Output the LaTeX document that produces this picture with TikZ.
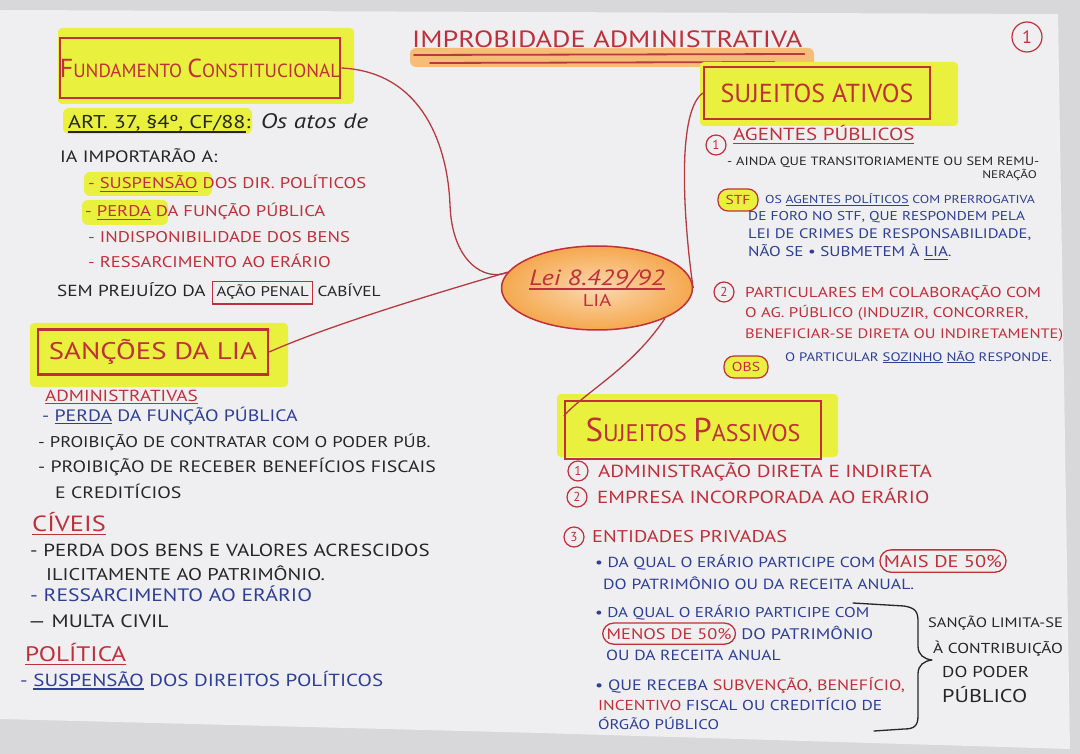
\documentclass[tikz,border=0pt]{standalone}
\usepackage{fontspec}
% hand-lettered capitals are wide: stretch the body face a little
\setmainfont{PT Sans}[FakeStretch=1.2]
\newfontfamily\headfont{PT Sans}
\usetikzlibrary{shapes.geometric,calc}

\definecolor{inkred}{HTML}{C0303A}
\definecolor{inklink}{HTML}{B73A40}
\definecolor{inkblue}{HTML}{2E3F98}
\definecolor{inkblack}{HTML}{262628}
\definecolor{hlyellow}{HTML}{E9F03E}
\definecolor{hlorange}{HTML}{F5A84E}
\definecolor{hlband}{HTML}{F6BC78}
\definecolor{desk}{HTML}{D8D8DA}
\definecolor{sheet}{HTML}{EFEFF1}

% underline drawn in the current text colour
\newsavebox\undlbox
\newcommand\undl[1]{\sbox\undlbox{#1}\rlap{\usebox\undlbox}\rule[-0.2em]{\wd\undlbox}{0.08em}}
\newcommand\fsz[1]{\fontsize{#1pt}{#1pt}\selectfont}

\begin{document}
\begin{tikzpicture}[x=1pt,y=-1pt,
  txt/.style={inner sep=0pt, anchor=base west},
  rd/.style={txt, text=inkred},
  bl/.style={txt, text=inkblue},
  bk/.style={txt, text=inkblack},
  hl/.style={fill=hlyellow, rounded corners=6pt},
  headbox/.style={draw=inkred, line width=2.4pt, text=inkred, inner sep=0pt},
  num/.style={circle, draw=inkred, line width=1.2pt, text=inkred, inner sep=0pt,
    minimum size=20pt, font=\headfont\fsz{13}},
  tag/.style={draw=inkred, line width=1.2pt, fill=hlyellow, rounded corners=10pt,
    text=inkred, inner sep=0pt, font=\fsz{13}},
  circled/.style={draw=inkred, line width=1.3pt, rounded corners=11pt, text=inkred,
    inner xsep=4pt, inner ysep=5pt, anchor=base west},
  link/.style={draw=inklink, line width=1.3pt}]

\useasboundingbox (0,0) rectangle (1080,754);
% desk and sheet of paper
\fill[desk] (0,0) rectangle (1080,754);
\fill[sheet] (0,10) -- (1058,14) -- (1070,749) -- (540,733) -- (0,719) -- cycle;

% ---------- title ----------
\fill[hlband, rounded corners=6pt] (410,48) rectangle (814,67);
\node[rd, font=\fsz{23.5}] (title) at (412,48) {IMPROBIDADE ADMINISTRATIVA};
\draw[inklink, line width=1.8pt, line cap=round]
  ($(title.base west)+(2,7)$) -- ($(title.base east)+(2,6)$);
\draw[inklink, line width=1.8pt, line cap=round]
  ($(title.base west)+(18,15)$) -- ($(title.base east)+(-28,14)$);
\node[num, minimum size=30pt, font=\headfont\fsz{18}] (pg) at (1027,37) {1};

% ---------- fundamento constitucional ----------
\fill[hlyellow, rounded corners=4pt] (58,28) rectangle (354,104);
\node[headbox, minimum width=272pt, minimum height=60pt, font=\headfont\fsz{19}] (fund) at (200,68)
  {{\fsz{26}F}UNDAMENTO {\fsz{26}C}ONSTITUCIONAL};
\fill[hl] (63,108) rectangle (252,134);
\node[bk, font=\fsz{18.5}] (art) at (68,129) {\undl{ART. 37, §4º, CF/88}:};
\node[bk, font=\fsz{21}\itshape] (atos) at ([xshift=10pt]art.base east) {Os atos de};
\node[bk, font=\fsz{16.5}] (ia) at (60,163) {IA IMPORTARÃO A:};
\fill[hl] (84,172) rectangle (212,196);
\fill[hl] (82,200) rectangle (168,225);
\node[rd, font=\fsz{15.5}] (f1) at (88,189) {- \undl{SUSPENSÃO} DOS DIR. POLÍTICOS};
\node[rd, font=\fsz{15.5}] (f2) at (85,217) {- \undl{PERDA} DA FUNÇÃO PÚBLICA};
\node[rd, font=\fsz{15.5}] (f3) at (88,243) {- INDISPONIBILIDADE DOS BENS};
\node[rd, font=\fsz{15.5}] (f4) at (88,268) {- RESSARCIMENTO AO ERÁRIO};
\node[bk, font=\fsz{16}] (sem) at (57,297) {SEM PREJUÍZO DA};
\node[bk, font=\fsz{14}, draw=inkred, line width=1.4pt, inner sep=4pt] (acao)
  at ([xshift=6pt]sem.base east) {AÇÃO PENAL};
\node[bk, font=\fsz{14.5}] (cab) at ([xshift=4pt]acao.base east) {CABÍVEL};

% ---------- central node ----------
\node[ellipse, draw=inkred, line width=1.5pt, inner color=hlorange!45!white,
  outer color=hlorange, minimum width=155pt, minimum height=84pt, align=center,
  text=inkred, inner sep=0pt] (lia) at (597,288)
  {{\fsz{22}\itshape\undl{Lei 8.429/92}}\\[3pt]{\fsz{17}LIA}};

% ---------- sanções da LIA ----------
\fill[hlyellow, rounded corners=4pt] (30,323) rectangle (288,387);
\node[headbox, minimum width=230pt, minimum height=45pt, font=\fsz{24}] (sanc) at (153,352)
  {SANÇÕES DA LIA};
\node[rd, font=\fsz{16}] (adm) at (45,401) {\undl{ADMINISTRATIVAS}};
\node[bl, font=\fsz{16.5}] (c1) at (42,421) {- \undl{PERDA} DA FUNÇÃO PÚBLICA};
\node[bk, font=\fsz{15.5}] (c2) at (38,447) {- PROIBIÇÃO DE CONTRATAR COM O PODER PÚB.};
\node[bk, font=\fsz{16.5}] (c3) at (38,472) {- PROIBIÇÃO DE RECEBER BENEFÍCIOS FISCAIS};
\node[bk, font=\fsz{16.5}] (c4) at (55,498) {E CREDITÍCIOS};
\node[rd, font=\fsz{22}] (civ) at (32,531) {\undl{CÍVEIS}};
\node[bk, font=\fsz{17.5}] (d1) at (30,556) {- PERDA DOS BENS E VALORES ACRESCIDOS};
\node[bk, font=\fsz{17}] (d2) at (46,580) {ILICITAMENTE AO PATRIMÔNIO.};
\node[bl, font=\fsz{18}] (d3) at (30,601) {- RESSARCIMENTO AO ERÁRIO};
\node[bk, font=\fsz{18}] (d4) at (28,627) {— MULTA CIVIL};
\node[rd, font=\fsz{21}] (pol) at (25,661) {\undl{POLÍTICA}};
\node[bl, font=\fsz{17.5}] (e1) at (20,686) {- \undl{SUSPENSÃO} DOS DIREITOS POLÍTICOS};

% ---------- sujeitos ativos ----------
\fill[hlyellow, rounded corners=4pt] (700,62) rectangle (958,126);
\node[headbox, minimum width=226pt, minimum height=52pt, font=\headfont\fsz{26}] (ativ) at (817,93)
  {SUJEITOS ATIVOS};
\node[num] (n1) at (716,145) {1};
\node[rd, font=\fsz{17.5}] (agp) at (733,141) {\undl{AGENTES PÚBLICOS}};
\node[bk, font=\fsz{12}] (ainda) at (727,166) {- AINDA QUE TRANSITORIAMENTE OU SEM REMU-};
\node[bk, font=\fsz{11}, anchor=base east] (nera) at (1037,179) {NERAÇÃO};
\node[tag, minimum width=40pt, minimum height=22pt] (stf) at (738,200) {STF};
\node[bl, font=\fsz{11.5}] (s1) at (765,204) {OS \undl{AGENTES POLÍTICOS} COM PRERROGATIVA};
\node[bl, font=\fsz{12.8}] (s2) at (748,221) {DE FORO NO STF, QUE RESPONDEM PELA};
\node[bl, font=\fsz{13.8}] (s3) at (748,239) {LEI DE CRIMES DE RESPONSABILIDADE,};
\node[bl, font=\fsz{14.2}] (s4) at (748,257) {NÃO SE \textbullet{} SUBMETEM À \undl{LIA}.};
\node[num] (n2) at (724,292) {2};
\node[rd, font=\fsz{14.4}] (p1) at (745,298) {PARTICULARES EM COLABORAÇÃO COM};
\node[rd, font=\fsz{14}] (p2) at (745,318) {O AG. PÚBLICO (INDUZIR, CONCORRER,};
\node[rd, font=\fsz{13.7}] (p3) at (745,338) {BENEFICIAR-SE DIRETA OU INDIRETAMENTE)};
\node[tag, minimum width=44pt, minimum height=22pt] (obs) at (746,367) {OBS};
\node[bl, font=\fsz{12.3}] (obst) at (785,361) {O PARTICULAR \undl{SOZINHO} \undl{NÃO} RESPONDE.};

% ---------- sujeitos passivos ----------
\fill[hlyellow, rounded corners=4pt] (557,394) rectangle (838,457);
\node[headbox, minimum width=256pt, minimum height=58pt, font=\headfont\fsz{24}] (pass) at (693,430)
  {{\fsz{33}S}UJEITOS {\fsz{33}P}ASSIVOS};
\node[num] (m1) at (578,471) {1};
\node[rd, font=\fsz{17.5}] (a1) at (598,477) {ADMINISTRAÇÃO DIRETA E INDIRETA};
\node[num] (m2) at (577,497) {2};
\node[rd, font=\fsz{17.5}] (a2) at (597,503) {EMPRESA INCORPORADA AO ERÁRIO};
\node[num] (m3) at (574,537) {3};
\node[rd, font=\fsz{17}] (a3) at (592,542) {ENTIDADES PRIVADAS};
\node[bl, font=\fsz{14.5}] (b1) at (595,567) {• DA QUAL O ERÁRIO PARTICIPE COM};
\node[circled, font=\fsz{17}] (mais) at ([xshift=4pt]b1.base east) {MAIS DE 50\%};
\node[bl, font=\fsz{14.7}] (b1b) at (603,589) {DO PATRIMÔNIO OU DA RECEITA ANUAL.};
\node[bl, font=\fsz{14.2}] (b2) at (595,617) {• DA QUAL O ERÁRIO PARTICIPE COM};
\node[circled, font=\fsz{15.3}] (menos) at (602,639) {MENOS DE 50\%};
\node[bl, font=\fsz{15.3}] (b2b) at ([xshift=5pt]menos.base east) {DO PATRIMÔNIO};
\node[bl, font=\fsz{14.6}] (b2c) at (606,660) {OU DA RECEITA ANUAL};
\node[bl, font=\fsz{15}] (b3) at (595,690)
  {• QUE RECEBA \textcolor{inkred}{SUBVENÇÃO, BENEFÍCIO,}};
\node[bl, font=\fsz{14.4}] (b3b) at (598,710)
  {\textcolor{inkred}{INCENTIVO} FISCAL OU CREDITÍCIO DE};
\node[bl, font=\fsz{14}] (b3c) at (598,729) {ÓRGÃO PÚBLICO};
% brace grouping the last two items
\draw[inkblack, line width=1.3pt, line cap=round, line join=round]
  (853,603) -- (904,606) .. controls (916,608) and (918,612) .. (918,622) -- (918,646)
  .. controls (918,655) and (924,659) .. (932,660)
  .. controls (924,661) and (918,665) .. (918,674) -- (918,716)
  .. controls (918,726) and (914,729) .. (904,729) -- (874,731);
\node[bk, font=\fsz{13.7}] (lim1) at (928,627) {SANÇÃO LIMITA-SE};
\node[bk, font=\fsz{14.4}] (lim2) at (933,653) {À CONTRIBUIÇÃO};
\node[bk, font=\fsz{15.7}] (lim3) at (942,677) {DO PODER};
\node[bk, font=\fsz{18.5}] (lim4) at (942,702) {PÚBLICO};

% ---------- connectors ----------
\draw[link] (fund.east) .. controls (425,72) and (448,150) .. (450,205)
  .. controls (452,262) and (485,282) .. (lia.170);
\draw[link] (lia.170) .. controls (440,292) and (330,325) .. (sanc.east);
\draw[link] (lia.east) .. controls (688,255) and (672,115) .. (ativ.west);
\draw[link] (lia.south east) .. controls (632,368) and (585,392) .. ([yshift=14pt]pass.west);
\end{tikzpicture}
\end{document}
